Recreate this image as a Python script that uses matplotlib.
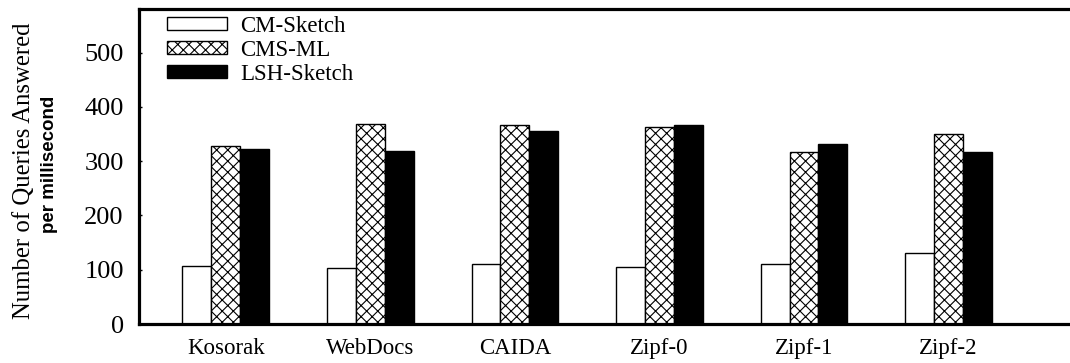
import matplotlib.pyplot as plt
import numpy as np

# Data
datasets = ['Kosorak', 'WebDocs', 'CAIDA', 'Zipf-0', 'Zipf-1', 'Zipf-2']
cm_sketch = [107, 104, 110, 105, 110, 130]
cms_ml = [327, 368, 366, 363, 317, 350]
lsh_sketch = [322, 319, 356, 366, 331, 316]
series_names = ['CM-Sketch', 'CMS-ML', 'LSH-Sketch']

plt.rcParams['font.family'] = ['Liberation Serif', 'DejaVu Serif']
plt.rcParams['hatch.linewidth'] = 0.8

fig = plt.figure(figsize=(10.7, 3.63), dpi=100)
ax = fig.add_axes([0.130, 0.1074, 0.870, 0.8676])

x = np.arange(len(datasets))
w = 0.2
ax.bar(x - w, cm_sketch, w, facecolor='white', edgecolor='black', linewidth=1.0, label=series_names[0])
ax.bar(x, cms_ml, w, facecolor='white', edgecolor='black', linewidth=1.0, hatch='xxx', label=series_names[1])
ax.bar(x + w, lsh_sketch, w, facecolor='black', edgecolor='black', linewidth=1.0, label=series_names[2])

ax.set_xlim(-0.6, 5.84)
ax.set_ylim(0, 580)
ax.set_yticks([0, 100, 200, 300, 400, 500])
ax.set_xticks(x)
ax.set_xticklabels(datasets)
ax.tick_params(axis='y', direction='in', length=2.5, width=1, pad=11, labelsize=19)
ax.tick_params(axis='x', length=0, pad=10, labelsize=16.5)

for side in ['top', 'left', 'bottom']:
    ax.spines[side].set_linewidth(2.3)
ax.spines['right'].set_visible(False)

ax.legend(loc='upper left', bbox_to_anchor=(0.030, 0.978), frameon=False, fontsize=16.5,
          handlelength=2.6, handleheight=0.5, handletextpad=0.6, labelspacing=0.12,
          borderaxespad=0.0, borderpad=0.0)

# Two-line y label
fig.text(0.022, 0.53, 'Number of Queries Answered', rotation=90, ha='center', va='center',
         fontsize=17.8)
fig.text(0.046, 0.548, 'per millisecond', rotation=90, ha='center', va='center',
         fontsize=13.5, fontweight='bold', family=['Liberation Sans', 'DejaVu Sans'])

fig.savefig('out.png', dpi=100)
plt.close(fig)
